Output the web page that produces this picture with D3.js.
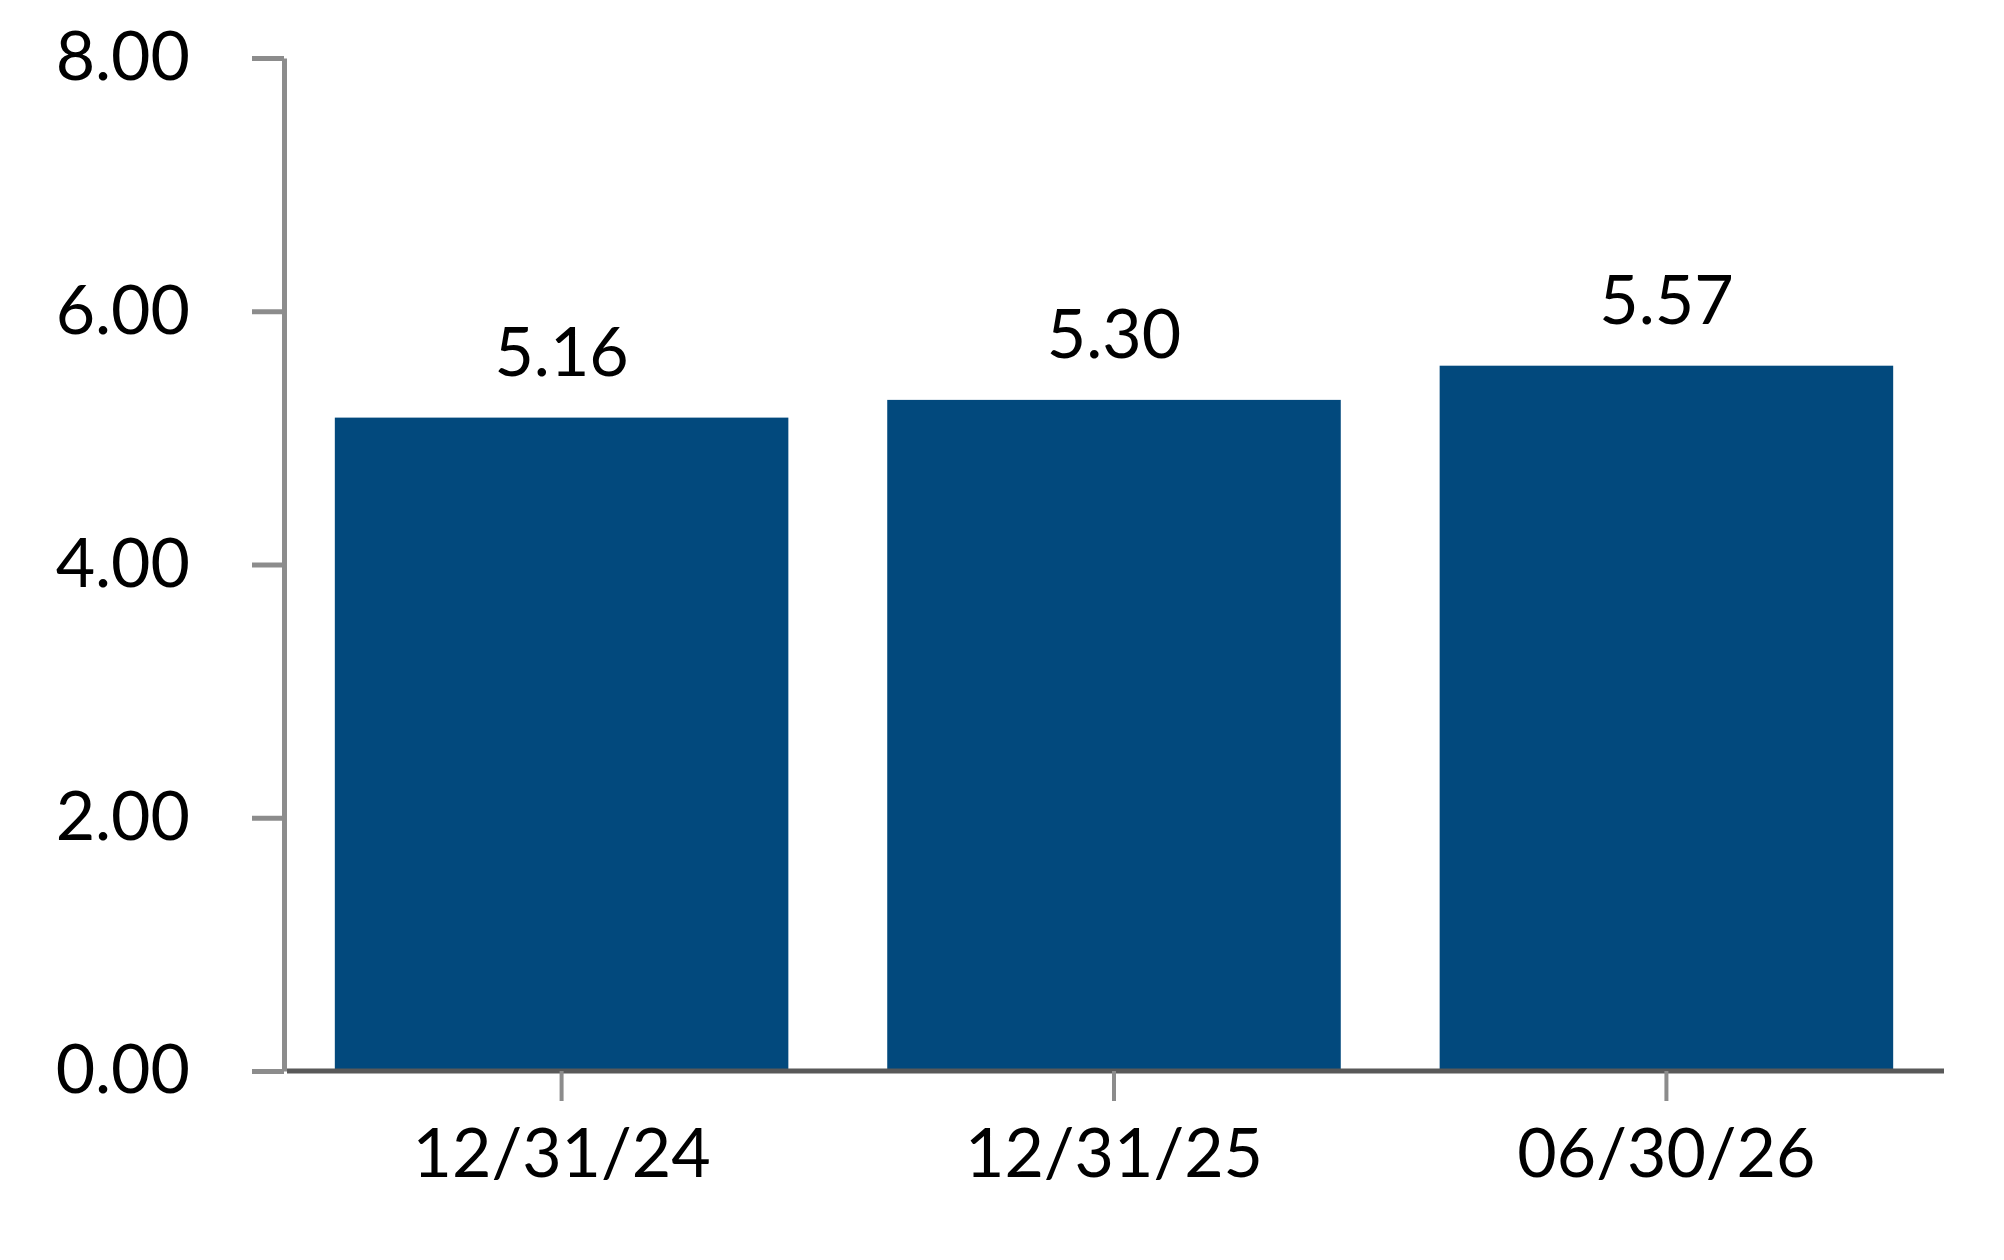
<!DOCTYPE html>
<html>
<head>
<meta charset="utf-8">
<script src="https://cdn.jsdelivr.net/npm/d3@7"></script>
<style>
  html, body { margin: 0; padding: 0; background: #fff; }
  svg { display: block; }
</style>
</head>
<body>
<svg width="2004" height="1260"></svg>
<script>
var categories = ['12/31/24', '12/31/25', '06/30/26'];
var values = [5.16, 5.30, 5.57];
var yTicks = [0, 2, 4, 6, 8];

var svg = d3.select("svg"),
    width = +svg.attr("width"),
    height = +svg.attr("height");

var margin = {top: 58, right: 60, bottom: 189, left: 284};

var x = d3.scaleBand()
    .domain(categories)
    .range([margin.left, width - margin.right])
    .paddingInner(0.179)
    .paddingOuter(0.092);

var y = d3.scaleLinear()
    .domain([0, 8])
    .range([height - margin.bottom, margin.top]);

var font = "Lato, 'Open Sans', sans-serif";

// bars
svg.append("g")
    .selectAll("rect")
    .data(values)
    .enter().append("rect")
    .attr("x", function(d, i) { return x(categories[i]); })
    .attr("y", function(d) { return y(d); })
    .attr("width", x.bandwidth())
    .attr("height", function(d) { return y(0) - y(d) - 2; })
    .attr("fill", "#02497d");

// value labels
svg.append("g")
    .selectAll("text")
    .data(values)
    .enter().append("text")
    .attr("x", function(d, i) { return x(categories[i]) + x.bandwidth() / 2; })
    .attr("y", function(d) { return y(d) - 42; })
    .attr("text-anchor", "middle")
    .attr("font-family", font)
    .attr("font-size", 68)
    .attr("fill", "#000")
    .text(function(d) { return d.toFixed(2); });

// y axis
var yAxis = svg.append("g")
    .attr("transform", "translate(" + margin.left + ",0)")
    .call(d3.axisLeft(y).tickValues(yTicks).tickFormat(d3.format(".2f")).tickSize(32).tickSizeOuter(0).tickPadding(62));

yAxis.select(".domain").attr("stroke", "#8c8c8c").attr("stroke-width", 5);
yAxis.selectAll(".tick line").attr("stroke", "#8c8c8c").attr("stroke-width", 5);
yAxis.selectAll(".tick text")
    .attr("font-family", font)
    .attr("font-size", 68)
    .attr("fill", "#000");

// x axis
var xAxis = svg.append("g")
    .attr("transform", "translate(0," + y(0) + ")")
    .call(d3.axisBottom(x).tickSize(30).tickSizeOuter(0).tickPadding(28));

xAxis.select(".domain").attr("stroke", "#595959").attr("stroke-width", 5)
    .attr("d", "M" + (margin.left + 3) + ",0H" + (width - margin.right));
xAxis.selectAll(".tick line").attr("stroke", "#8c8c8c").attr("stroke-width", 4);
xAxis.selectAll(".tick text")
    .attr("font-family", font)
    .attr("font-size", 68)
    .attr("fill", "#000");
</script>
</body>
</html>
